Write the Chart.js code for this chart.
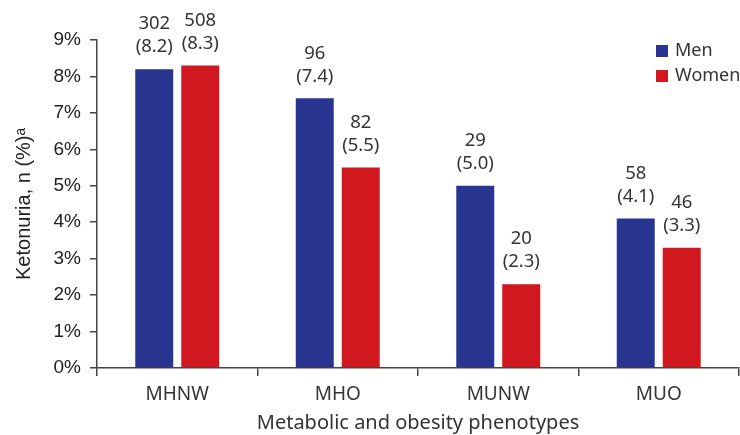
<!DOCTYPE html>
<html>
<head>
<meta charset="utf-8">
<script src="https://cdn.jsdelivr.net/npm/chart.js@4"></script>
<style>
  body { margin: 0; background: #fff; }
  #wrap { width: 740px; height: 435px; position: relative; }
</style>
</head>
<body>
<div id="wrap"><canvas id="myChart"></canvas></div>
<script>
// data
const categories = ["MHNW", "MHO", "MUNW", "MUO"];
const menPct = [8.2, 7.4, 5.0, 4.1];
const womenPct = [8.3, 5.5, 2.3, 3.3];
const menN = [302, 96, 29, 58];
const womenN = [508, 82, 20, 46];
const yTicks = [0, 1, 2, 3, 4, 5, 6, 7, 8, 9];

const blue = "#283590";
const red = "#d0181e";
const textFont = "'Noto Sans', 'Open Sans', sans-serif";
const axisFont = "Arial, 'Liberation Sans', sans-serif";

// labels above the bars: n on top, (%) below
const barLabels = {
    id: "barLabels",
    afterDatasetsDraw(chart) {
        const ctx = chart.ctx;
        const counts = [menN, womenN];
        ctx.save();
        ctx.fillStyle = "#333";
        ctx.font = "18.5px " + textFont;
        ctx.textAlign = "center";
        ctx.textBaseline = "middle";
        chart.data.datasets.forEach(function(ds, i) {
            chart.getDatasetMeta(i).data.forEach(function(bar, j) {
                ctx.fillText("(" + ds.data[j].toFixed(1) + ")", bar.x, bar.y - 22);
                ctx.fillText(String(counts[i][j]), bar.x, bar.y - 45);
            });
        });
        ctx.restore();
    }
};

// legend in the upper right corner, stacked
const sideLegend = {
    id: "sideLegend",
    afterDraw(chart) {
        const ctx = chart.ctx;
        ctx.save();
        ctx.font = "18px " + textFont;
        ctx.textBaseline = "middle";
        chart.data.datasets.forEach(function(ds, i) {
            const y = 51 + i * 25;
            ctx.fillStyle = ds.backgroundColor;
            ctx.fillRect(656, y - 6, 12, 12);
            ctx.fillStyle = "#333";
            ctx.fillText(ds.label, 675, y);
        });
        ctx.restore();
    }
};

const data = {
    labels: categories,
    datasets: [
        { label: "Men", data: menPct, backgroundColor: blue },
        { label: "Women", data: womenPct, backgroundColor: red }
    ]
};

const config = {
    type: "bar",
    data: data,
    options: {
        responsive: true,
        maintainAspectRatio: false,
        animation: false,
        datasets: {
            bar: { categoryPercentage: 0.573, barPercentage: 0.826 }
        },
        layout: { padding: { top: 40, right: 1, left: 0, bottom: 0 } },
        plugins: {
            legend: { display: false },
            tooltip: { enabled: false }
        },
        scales: {
            x: {
                grid: { drawOnChartArea: false, drawTicks: true, tickLength: 8, color: "#444", lineWidth: 1.5 },
                border: { color: "#444", width: 1.5 },
                ticks: { color: "#333", font: { family: textFont, size: 19 }, padding: 7 },
                title: {
                    display: true,
                    text: "Metabolic and obesity phenotypes",
                    color: "#333",
                    font: { family: textFont, size: 20 },
                    padding: { top: 2, bottom: 0 }
                },
                afterFit(scale) { scale.height = 67; }
            },
            y: {
                min: 0,
                max: 9,
                afterBuildTicks(scale) {
                    scale.ticks = yTicks.map(function(v) { return { value: v }; });
                },
                grid: { drawOnChartArea: false, drawTicks: true, tickLength: 7, color: "#444", lineWidth: 1.5 },
                border: { color: "#444", width: 1.5 },
                ticks: {
                    color: "#222",
                    font: { family: axisFont, size: 19 },
                    padding: 9,
                    callback: function(v) { return v + "%"; }
                },
                title: {
                    display: true,
                    text: "Ketonuria, n (%)\u1d43",
                    color: "#222",
                    font: { family: axisFont, size: 20 },
                    padding: { top: 12, bottom: 0 }
                },
                afterFit(scale) { scale.width = 97; }
            }
        }
    },
    plugins: [barLabels, sideLegend]
};

let myChart = new Chart(document.getElementById("myChart"), config);
</script>
</body>
</html>
